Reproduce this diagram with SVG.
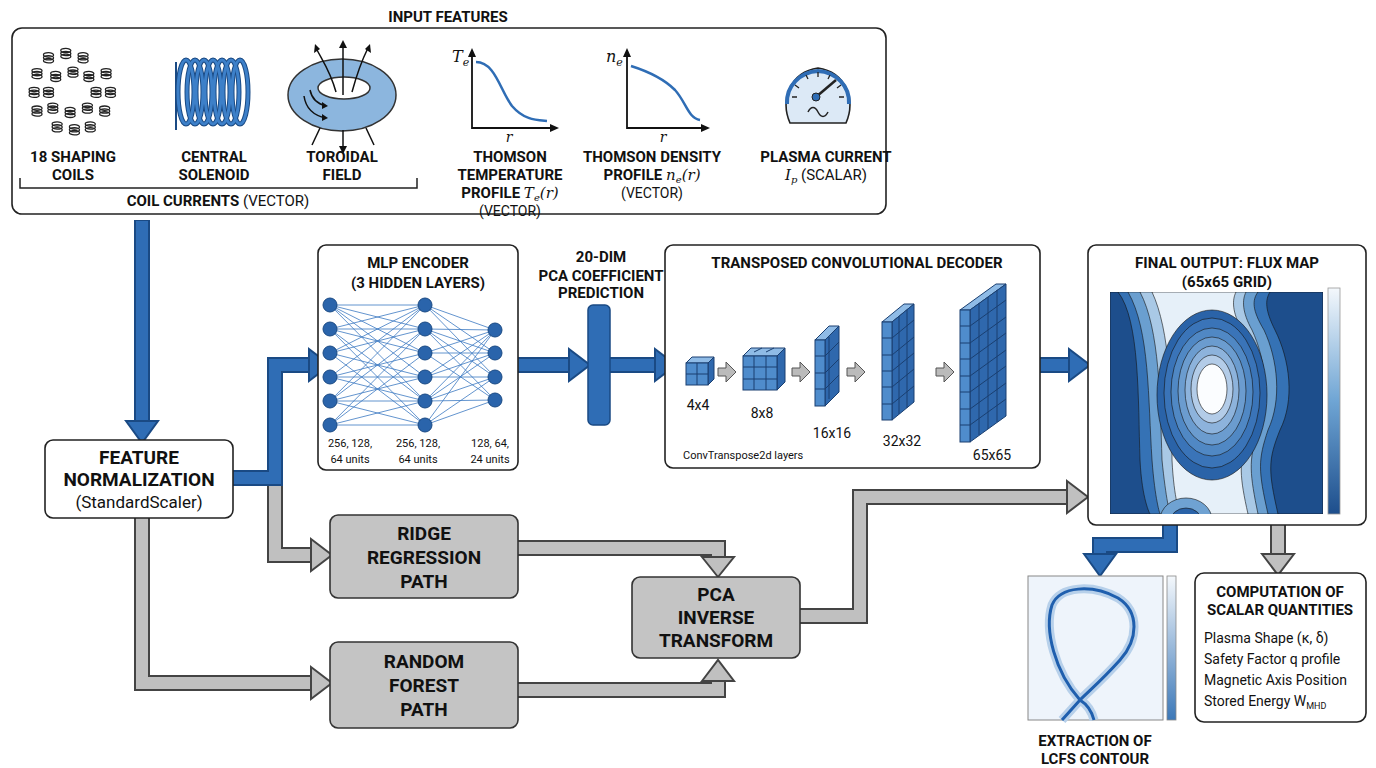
<svg xmlns="http://www.w3.org/2000/svg" width="1376" height="768" viewBox="0 0 1376 768">
<style>
text{font-family:"Liberation Sans Narrow","Roboto","Liberation Sans",sans-serif;fill:#111}
.t{font-weight:bold;font-size:15px;text-anchor:middle}
.tb{font-weight:bold;font-size:19px;text-anchor:middle}
.n{font-size:14px;text-anchor:middle}
.s{font-size:11px;text-anchor:middle}
.box{fill:#fff;stroke:#222;stroke-width:1.6}
.gbox{fill:#c4c4c4;stroke:#333;stroke-width:1.6}
.bo{fill:none;stroke:#1a4a84;stroke-width:16;stroke-linejoin:miter}
.bi{fill:none;stroke:#2f6db5;stroke-width:12;stroke-linejoin:miter}
.bh{fill:#2f6db5;stroke:#1a4a84;stroke-width:2}
.go{fill:none;stroke:#444;stroke-width:16;stroke-linejoin:miter}
.gi{fill:none;stroke:#c0c0c0;stroke-width:12;stroke-linejoin:miter}
.gh{fill:#c0c0c0;stroke:#444;stroke-width:2}
.coil{fill:none;stroke:#222;stroke-width:1.8}
.nl{stroke:#3b78c2;stroke-width:0.8}
.nd{fill:#2a64ab;stroke:#1a4a84}
.cf{fill:#4f8ccc;stroke:#1a3f70;stroke-width:1}
.ct{fill:#8fbbe6;stroke:#1a3f70;stroke-width:1}
.cs{fill:#2f68ad;stroke:#1a3f70;stroke-width:1}
.gl{stroke:#1a3f70;stroke-width:1}
.sa{fill:#bbb;stroke:#555;stroke-width:1}
.it{font-family:"DejaVu Serif","Liberation Serif",serif;font-style:italic;font-weight:normal}
</style>
<defs>
<g id="sp"><ellipse cx="0" cy="-4" rx="7" ry="3"/><ellipse cx="0" cy="0" rx="7" ry="3"/><ellipse cx="0" cy="4" rx="7" ry="3"/></g>
<clipPath id="fm"><rect x="1110" y="292" width="213" height="222"/></clipPath>
<linearGradient id="cb" x1="0" y1="0" x2="0" y2="1"><stop offset="0" stop-color="#f4f8fc"/><stop offset="0.5" stop-color="#6fa5d4"/><stop offset="1" stop-color="#1d4e8c"/></linearGradient>
<linearGradient id="cb2" x1="0" y1="0" x2="0" y2="1"><stop offset="0" stop-color="#f4f8fc"/><stop offset="1" stop-color="#3c78b8"/></linearGradient>
</defs>
<rect width="1376" height="768" fill="#fff"/>

<g id="input-features">
<text class="t" x="448" y="22" font-size="16">INPUT FEATURES</text>
<rect class="box" x="12" y="28" width="874" height="186" rx="10"/>
<g id="coils">
<g transform="translate(73,88) scale(0.72)" class="coil">
<use href="#sp" x="-34" y="-42"/><use href="#sp" x="-10" y="-48"/><use href="#sp" x="14" y="-42"/>
<use href="#sp" x="-50" y="-20"/><use href="#sp" x="-24" y="-16"/><use href="#sp" x="0" y="-22"/><use href="#sp" x="22" y="-16"/><use href="#sp" x="46" y="-20"/>
<use href="#sp" x="-54" y="6"/><use href="#sp" x="-34" y="6"/><use href="#sp" x="32" y="6"/><use href="#sp" x="52" y="6"/>
<use href="#sp" x="-50" y="32"/><use href="#sp" x="-28" y="28"/><use href="#sp" x="-4" y="34"/><use href="#sp" x="20" y="28"/><use href="#sp" x="44" y="32"/>
<use href="#sp" x="-22" y="54"/><use href="#sp" x="2" y="58"/><use href="#sp" x="24" y="54"/>
</g>
<text class="t" x="73" y="162">18 SHAPING</text><text class="t" x="73" y="180">COILS</text>
</g>
<g id="solenoid" fill="none" stroke-width="5">
<path d="M176,62 V130" stroke="#1a4a84" stroke-width="2"/>
<g stroke="#1a4a84"><ellipse cx="186" cy="92" rx="8" ry="32"/><ellipse cx="195" cy="92" rx="8" ry="32"/><ellipse cx="204" cy="92" rx="8" ry="32"/><ellipse cx="213" cy="92" rx="8" ry="32"/><ellipse cx="222" cy="92" rx="8" ry="32"/><ellipse cx="231" cy="92" rx="8" ry="32"/><ellipse cx="240" cy="92" rx="8" ry="32"/></g>
<g stroke="#3d80c9" stroke-width="3"><ellipse cx="186" cy="92" rx="8" ry="32"/><ellipse cx="195" cy="92" rx="8" ry="32"/><ellipse cx="204" cy="92" rx="8" ry="32"/><ellipse cx="213" cy="92" rx="8" ry="32"/><ellipse cx="222" cy="92" rx="8" ry="32"/><ellipse cx="231" cy="92" rx="8" ry="32"/><ellipse cx="240" cy="92" rx="8" ry="32"/></g>
<text class="t" x="214" y="162" stroke="none">CENTRAL</text><text class="t" x="214" y="180" stroke="none">SOLENOID</text>
</g>
<g id="torus">
<ellipse cx="342" cy="95" rx="54" ry="36" fill="#8cb6de" stroke="#333" stroke-width="1.5"/>
<ellipse cx="344" cy="88" rx="26" ry="11" fill="#fff" stroke="#333" stroke-width="1.5"/>
<g stroke="#111" stroke-width="1.5" fill="none">
<path d="M343,95 V45"/><path d="M336,92 C330,70 322,60 316,48"/><path d="M352,92 C358,70 362,60 368,48"/>
<path d="M343,130 V150"/><path d="M320,128 L312,145"/><path d="M366,128 L374,145"/>
<path d="M304,96 C306,110 316,116 326,118"/><path d="M310,90 C312,100 318,104 326,106"/>
</g>
<g fill="#111"><path d="M343,40 l-4,8 h8z"/><path d="M315,44 l-1,9 l6,-4z"/><path d="M370,44 l-5,5 l6,4z"/><path d="M343,154 l-4,-8 h8z"/><path d="M328,118 l-6,-4 v7z"/><path d="M328,106 l-6,-4 v7z"/></g>
<text class="t" x="342" y="162">TOROIDAL</text><text class="t" x="342" y="180">FIELD</text>
</g>
<path d="M20,178 V188 H417 V178" fill="none" stroke="#222" stroke-width="1.5"/>
<text x="218" y="206" font-size="15" text-anchor="middle"><tspan font-weight="bold">COIL CURRENTS</tspan> (VECTOR)</text>
<g id="te-profile">
<path d="M472,52 V128 H555" fill="none" stroke="#111" stroke-width="1.8"/>
<path d="M472,48 l-4,9 h8z M559,128 l-9,-4 v8z" fill="#111"/>
<path d="M476,62 C495,62 500,90 512,106 C524,120 536,120 547,121" fill="none" stroke="#2f6db5" stroke-width="2.5"/>
<text class="it" x="452" y="62" font-size="16">T<tspan font-size="11" dy="4">e</tspan></text>
<text class="it" x="509" y="142" font-size="14" text-anchor="middle">r</text>
<text class="t" x="510" y="162">THOMSON</text><text class="t" x="510" y="180">TEMPERATURE</text>
<text class="t" x="510" y="198">PROFILE <tspan class="it">T<tspan font-size="10" dy="3">e</tspan><tspan dy="-3">(r)</tspan></tspan></text>
<text class="n" x="510" y="216" font-size="15">(VECTOR)</text>
</g>
<g id="ne-profile">
<path d="M627,52 V128 H706" fill="none" stroke="#111" stroke-width="1.8"/>
<path d="M627,48 l-4,9 h8z M710,128 l-9,-4 v8z" fill="#111"/>
<path d="M631,66 C650,72 665,80 675,90 C686,102 688,118 700,120" fill="none" stroke="#2f6db5" stroke-width="2.5"/>
<text class="it" x="606" y="62" font-size="16">n<tspan font-size="11" dy="4">e</tspan></text>
<text class="it" x="663" y="142" font-size="14" text-anchor="middle">r</text>
<text class="t" x="652" y="162">THOMSON DENSITY</text>
<text class="t" x="652" y="180">PROFILE <tspan class="it">n<tspan font-size="10" dy="3">e</tspan><tspan dy="-3">(r)</tspan></tspan></text>
<text class="n" x="652" y="198" font-size="15">(VECTOR)</text>
</g>
<g id="plasma-current">
<path d="M790,123 C780,100 790,72 818,68 C846,72 856,100 846,123 Z" fill="#dce9f6" stroke="#222" stroke-width="1.6"/>
<path d="M787,104 C786,86 800,72 818,71 C836,72 850,86 849,104" fill="none" stroke="#2f6db5" stroke-width="4"/>
<g stroke="#222" stroke-width="1.3"><path d="M795,85 l4,3 M806,75 l2,4 M818,72 v5 M830,75 l-2,4 M841,85 l-4,3 M792,97 h5 M844,97 h-5"/></g>
<path d="M816,97 L836,80" stroke="#222" stroke-width="2.5"/>
<circle cx="816" cy="97" r="4" fill="#2f6db5" stroke="#222"/>
<path d="M808,112 c3,-6 7,-6 10,0 s7,6 10,0" fill="none" stroke="#222" stroke-width="1.5"/>
<text class="t" x="826" y="162">PLASMA CURRENT</text>
<text x="826" y="180" font-size="15" text-anchor="middle"><tspan class="it">I<tspan font-size="10" dy="3">p</tspan></tspan><tspan dy="-3"> (SCALAR)</tspan></text>
</g>
</g>

<g id="connectors">
<path class="bo" d="M142,220 V422"/><path class="bi" d="M142,221 V422"/>
<path class="go" d="M275,478 V555 H312"/><path class="gi" d="M275,478 V555 H313"/>
<path class="go" d="M142,518 V683 H312"/><path class="gi" d="M142,518 V683 H313"/>
<path class="bo" d="M233,478 H275 V365 H310"/><path class="bi" d="M233,478 H275 V365 H311"/>
<path class="bo" d="M518,365 H570"/><path class="bi" d="M518,365 H571"/>
<path class="bo" d="M610,365 H656"/><path class="bi" d="M610,365 H657"/>
<path class="bo" d="M1040,365 H1070"/><path class="bi" d="M1040,365 H1071"/>
<path class="go" d="M518,548 H718 V558"/><path class="gi" d="M518,548 H718 V559"/>
<path class="go" d="M518,690 H718 V680"/><path class="gi" d="M518,690 H718 V679"/>
<path class="go" d="M800,616 H860 V497 H1068"/><path class="gi" d="M800,616 H860 V497 H1069"/>
<path class="bo" d="M1170,525 V545 H1100 V555"/><path class="bi" d="M1170,525 V545 H1100 V556"/>
<path class="go" d="M1278,525 V555"/><path class="gi" d="M1278,525 V556"/>
<path class="bh" d="M126,421 L142,443 L158,421Z"/>
<path class="bh" d="M309,349 L330,365 L309,381Z"/>
<path class="bh" d="M569,349 L590,365 L569,381Z"/>
<path class="bh" d="M655,349 L676,365 L655,381Z"/>
<path class="bh" d="M1069,349 L1090,365 L1069,381Z"/>
<path class="bh" d="M1084,554 L1100,576 L1116,554Z"/>
<path class="gh" d="M311,539 L332,555 L311,571Z"/>
<path class="gh" d="M311,667 L332,683 L311,699Z"/>
<path class="gh" d="M702,557 L718,577 L734,557Z"/>
<path class="gh" d="M702,681 L718,660 L734,681Z"/>
<path class="gh" d="M1067,481 L1088,497 L1067,513Z"/>
<path class="gh" d="M1262,554 L1278,575 L1294,554Z"/>
</g>

<g id="normalization">
<rect class="box" x="45" y="440" width="188" height="78" rx="8"/>
<text class="tb" x="139" y="464">FEATURE</text>
<text class="tb" x="139" y="486">NORMALIZATION</text>
<text x="139" y="508" font-size="17" text-anchor="middle">(StandardScaler)</text>
</g>

<g id="mlp-encoder">
<rect class="box" x="318" y="245" width="200" height="225" rx="8"/>
<text class="t" x="418" y="268" font-size="17">MLP ENCODER</text>
<text class="t" x="418" y="288" font-size="17">(3 HIDDEN LAYERS)</text>
<g class="nl">
<path d="M330,305 L425,305 M330,305 L425,329 M330,305 L425,353 M330,305 L425,377 M330,305 L425,401 M330,329 L425,305 M330,329 L425,353 M330,329 L425,401 M330,329 L425,425 M330,353 L425,305 M330,353 L425,329 M330,353 L425,377 M330,353 L425,425 M330,377 L425,305 M330,377 L425,353 M330,377 L425,377 M330,377 L425,401 M330,401 L425,329 M330,401 L425,377 M330,401 L425,425 M330,401 L425,305 M330,425 L425,353 M330,425 L425,401 M330,425 L425,425 M330,425 L425,329 M330,329 L425,329 M330,401 L425,401"/>
<path d="M425,305 L495,330 M425,305 L495,353 M425,305 L495,377 M425,329 L495,330 M425,329 L495,377 M425,329 L495,400 M425,353 L495,330 M425,353 L495,353 M425,353 L495,400 M425,377 L495,330 M425,377 L495,353 M425,377 L495,377 M425,401 L495,353 M425,401 L495,377 M425,401 L495,400 M425,425 L495,330 M425,425 L495,377 M425,425 L495,400 M425,329 L495,353 M425,401 L495,330"/>
</g>
<g class="nd">
<circle cx="330" cy="305" r="7"/><circle cx="330" cy="329" r="7"/><circle cx="330" cy="353" r="7"/><circle cx="330" cy="377" r="7"/><circle cx="330" cy="401" r="7"/><circle cx="330" cy="425" r="7"/>
<circle cx="425" cy="305" r="7"/><circle cx="425" cy="329" r="7"/><circle cx="425" cy="353" r="7"/><circle cx="425" cy="377" r="7"/><circle cx="425" cy="401" r="7"/><circle cx="425" cy="425" r="7"/>
<circle cx="495" cy="330" r="7"/><circle cx="495" cy="353" r="7"/><circle cx="495" cy="377" r="7"/><circle cx="495" cy="400" r="7"/>
</g>
<text class="s" x="350" y="447">256, 128,</text><text class="s" x="350" y="463">64 units</text>
<text class="s" x="418" y="447">256, 128,</text><text class="s" x="418" y="463">64 units</text>
<text class="s" x="490" y="447">128, 64,</text><text class="s" x="490" y="463">24 units</text>
</g>

<g id="pca-coefficients">
<text class="t" x="601" y="262">20-DIM</text>
<text class="t" x="601" y="281">PCA COEFFICIENT</text>
<text class="t" x="601" y="298">PREDICTION</text>
<rect x="588" y="305" width="22" height="120" rx="5" fill="#2f6db5" stroke="#1a4a84" stroke-width="1.5"/>
</g>

<g id="decoder">
<rect class="box" x="665" y="245" width="375" height="223" rx="8"/>
<text class="t" x="857" y="268" font-size="17">TRANSPOSED CONVOLUTIONAL DECODER</text>
<path class="ct" d="M686,363 l6,-6 h22 l-6,6z"/><path class="cs" d="M708,363 l6,-6 v22 l-6,6z"/>
<rect class="cf" x="686" y="363" width="22" height="22"/><path class="gl" d="M697,363 v22 M686,374 h22"/>
<text class="n" x="698" y="410">4x4</text>
<path class="sa" d="M718,368 h8 v-6 l10,10 l-10,10 v-6 h-8z"/>
<path class="ct" d="M743,356 l8,-8 h34 l-8,8z"/><path class="cs" d="M777,356 l8,-8 v34 l-8,8z"/>
<rect class="cf" x="743" y="356" width="34" height="34"/><path class="gl" d="M754,356 v34 M766,356 v34 M743,367 h34 M743,379 h34 M754,352 l8,-4 M766,352 l8,-4"/>
<text class="n" x="762" y="418">8x8</text>
<path class="sa" d="M792,368 h8 v-6 l10,10 l-10,10 v-6 h-8z"/>
<path class="ct" d="M815,340 l14,-14 h10 l-14,14z"/><path class="cs" d="M825,340 l14,-14 v66 l-14,14z"/>
<rect class="cf" x="815" y="340" width="10" height="66"/><path class="gl" d="M815,356 h10 M815,373 h10 M815,389 h10 M825,356 l14,-14 M825,373 l14,-14 M825,389 l14,-14 M829,337 v62"/>
<text class="n" x="832" y="438">16x16</text>
<path class="sa" d="M847,368 h8 v-6 l10,10 l-10,10 v-6 h-8z"/>
<path class="ct" d="M882,322 l22,-18 h10 l-22,18z"/><path class="cs" d="M892,322 l22,-18 v98 l-22,18z"/>
<rect class="cf" x="882" y="322" width="10" height="98"/><path class="gl" d="M882,338 h10 M882,355 h10 M882,371 h10 M882,387 h10 M882,404 h10 M892,338 l22,-18 M892,355 l22,-18 M892,371 l22,-18 M892,387 l22,-18 M892,404 l22,-18 M899,316 v98 M907,310 v98"/>
<text class="n" x="902" y="446">32x32</text>
<path class="sa" d="M936,368 h8 v-6 l10,10 l-10,10 v-6 h-8z"/>
<path class="ct" d="M960,310 l36,-26 h10 l-36,26z"/><path class="cs" d="M970,310 l36,-26 v132 l-36,26z"/>
<rect class="cf" x="960" y="310" width="10" height="132"/><path class="gl" d="M960,326 h10 M960,343 h10 M960,359 h10 M960,376 h10 M960,392 h10 M960,409 h10 M960,425 h10 M970,326 l36,-26 M970,343 l36,-26 M970,359 l36,-26 M970,376 l36,-26 M970,392 l36,-26 M970,409 l36,-26 M970,425 l36,-26 M979,303 v132 M988,297 v132 M997,290 v132"/>
<text class="n" x="992" y="460" font-size="15">65x65</text>
<text x="683" y="459" font-size="11">ConvTranspose2d layers</text>
</g>

<g id="final-output">
<rect class="box" x="1088" y="245" width="278" height="280" rx="8"/>
<text class="t" x="1227" y="268" font-size="17">FINAL OUTPUT: FLUX MAP</text>
<text class="t" x="1227" y="287" font-size="17">(65x65 GRID)</text>
<g clip-path="url(#fm)" stroke="#111" stroke-width="0.6">
<rect x="1110" y="292" width="213" height="222" fill="#1d4e8c"/>
<path d="M1118,292 C1140,320 1138,400 1140,460 C1142,500 1150,514 1150,514 H1278 C1268,470 1268,460 1280,430 C1295,400 1290,360 1275,330 C1265,310 1265,300 1270,292Z" fill="#3572b5"/>
<path d="M1128,292 C1150,330 1148,400 1152,460 C1155,500 1160,514 1160,514 H1268 C1258,470 1258,460 1268,430 C1282,400 1278,360 1264,330 C1252,310 1252,300 1258,292Z" fill="#6a9fd0"/>
<path d="M1140,292 C1160,330 1160,400 1162,460 C1166,500 1170,514 1170,514 H1258 C1250,475 1248,460 1258,432 C1270,400 1266,360 1252,330 C1242,312 1242,300 1246,292Z" fill="#a9c9e6"/>
<path d="M1152,292 C1170,330 1172,400 1172,460 C1174,500 1180,514 1180,514 H1248 C1240,478 1238,462 1248,434 C1258,400 1256,360 1242,330 C1232,312 1232,300 1236,292Z" fill="#e6f0f9"/>
<ellipse cx="1212" cy="395" rx="55" ry="85" fill="#2a63a8"/>
<ellipse cx="1212" cy="393" rx="48" ry="75" fill="#3a74b8"/>
<ellipse cx="1212" cy="392" rx="41" ry="64" fill="#5088c4"/>
<ellipse cx="1212" cy="391" rx="34" ry="54" fill="#6b9ccf"/>
<ellipse cx="1212" cy="390" rx="27" ry="44" fill="#8db3dc"/>
<ellipse cx="1212" cy="389" rx="21" ry="34" fill="#b3cce8"/>
<ellipse cx="1212" cy="389" rx="15" ry="25" fill="#fbfdff"/>
<ellipse cx="1186" cy="520" rx="26" ry="22" fill="#6fa2d2"/>
<ellipse cx="1186" cy="522" rx="16" ry="14" fill="#2a63a8"/>
</g>
<rect x="1328" y="288" width="12" height="226" fill="url(#cb)" stroke="#999" stroke-width="0.8"/>
</g>

<g id="ridge">
<rect class="gbox" x="330" y="515" width="188" height="83" rx="8"/>
<text class="tb" x="424" y="540">RIDGE</text><text class="tb" x="424" y="564">REGRESSION</text><text class="tb" x="424" y="588">PATH</text>
</g>
<g id="random-forest">
<rect class="gbox" x="330" y="642" width="188" height="86" rx="8"/>
<text class="tb" x="424" y="668">RANDOM</text><text class="tb" x="424" y="692">FOREST</text><text class="tb" x="424" y="716">PATH</text>
</g>
<g id="pca-inverse">
<rect class="gbox" x="632" y="577" width="168" height="81" rx="8"/>
<text class="tb" x="716" y="601">PCA</text><text class="tb" x="716" y="624">INVERSE</text><text class="tb" x="716" y="647">TRANSFORM</text>
</g>

<g id="lcfs">
<rect x="1028" y="576" width="135" height="144" fill="#eef4fb" stroke="#888"/>
<path d="M1080,700 C1055,672 1044,630 1052,605 C1060,586 1092,584 1118,598 C1140,612 1138,640 1120,660 C1102,680 1090,690 1080,700 L1062,720 M1080,700 C1088,705 1092,712 1094,720" fill="none" stroke="#b7d0ea" stroke-width="9"/>
<path d="M1080,700 C1055,672 1044,630 1052,605 C1060,586 1092,584 1118,598 C1140,612 1138,640 1120,660 C1102,680 1090,690 1080,700 L1062,720 M1080,700 C1088,705 1092,712 1094,720" fill="none" stroke="#1f5fae" stroke-width="3"/>
<rect x="1167" y="576" width="9" height="144" fill="url(#cb2)" stroke="#888" stroke-width="0.8"/>
<text class="t" x="1095" y="746" font-size="16">EXTRACTION OF</text>
<text class="t" x="1095" y="764" font-size="16">LCFS CONTOUR</text>
</g>

<g id="scalar-quantities">
<rect class="box" x="1195" y="573" width="171" height="149" rx="9"/>
<text class="t" x="1280" y="597" font-size="16">COMPUTATION OF</text>
<text class="t" x="1280" y="615" font-size="16">SCALAR QUANTITIES</text>
<text x="1204" y="643" font-size="14">Plasma Shape (κ, δ)</text>
<text x="1204" y="664" font-size="14">Safety Factor q profile</text>
<text x="1204" y="685" font-size="14">Magnetic Axis Position</text>
<text x="1204" y="706" font-size="14">Stored Energy W<tspan font-size="9" dy="3">MHD</tspan></text>
</g>
</svg>
